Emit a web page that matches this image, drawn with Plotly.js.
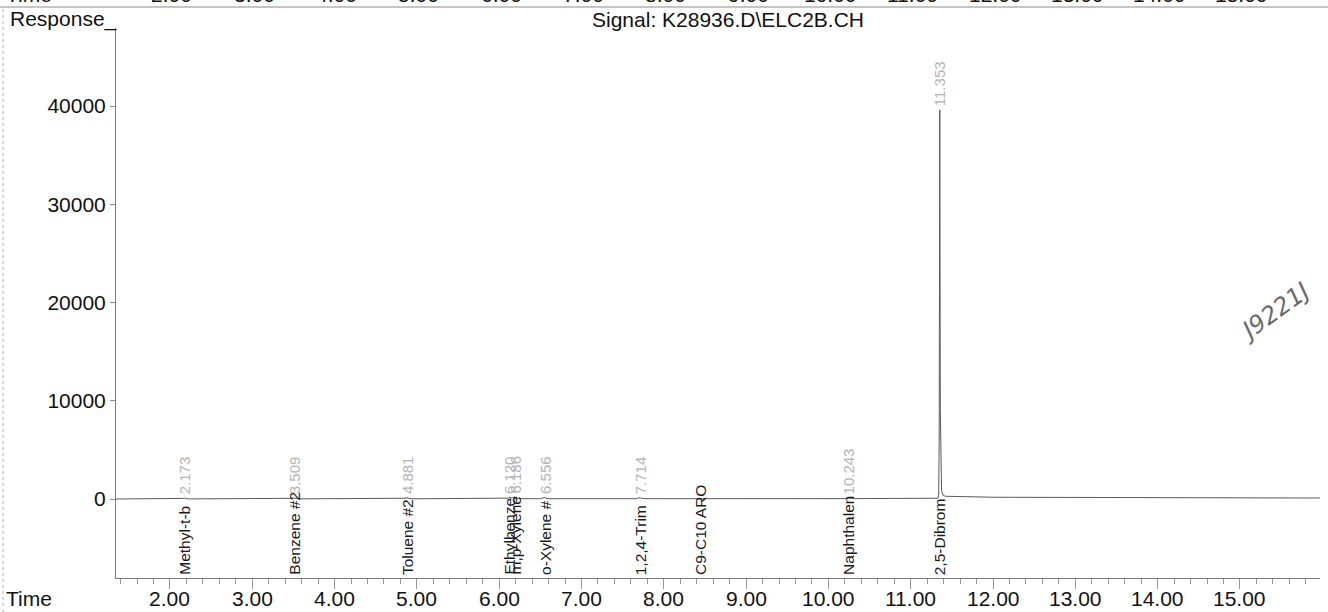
<!DOCTYPE html>
<html>
<head>
<meta charset="utf-8">
<script src="https://cdn.plot.ly/plotly-3.0.1.min.js"></script>
<style>
  html, body { margin: 0; padding: 0; background: #ffffff; }
  #chart { width: 1328px; height: 612px; }
</style>
</head>
<body>
<div id="chart"></div>
<script>
// Detector signal: retention time (min) and response
const traceTime = [1.344, 2.120, 2.166, 2.173, 2.180, 2.230, 3.450, 3.502, 3.509, 3.516, 3.570,
  4.820, 4.874, 4.881, 4.888, 4.940, 6.060, 6.113, 6.120, 6.150, 6.179, 6.186, 6.193, 6.240,
  6.500, 6.549, 6.556, 6.563, 6.610, 7.660, 7.707, 7.714, 7.721, 7.770, 10.190, 10.236, 10.243,
  10.250, 10.300, 11.300, 11.330, 11.340, 11.346, 11.350, 11.353, 11.356, 11.360, 11.366, 11.375,
  11.390, 11.420, 12.000, 13.500, 15.973];
const traceResponse = [0, 10, 60, 140, 60, 10, 10, 70, 160, 70, 15,
  15, 80, 180, 80, 20, 20, 90, 190, 110, 150, 260, 120, 30,
  30, 90, 170, 90, 30, 30, 80, 150, 80, 30, 40, 90, 160,
  90, 40, 40, 80, 400, 6000, 25000, 39600, 26000, 9000, 2500, 900,
  400, 280, 180, 130, 100];

// Identified compounds
const compoundNames = ["Methyl-t-b", "Benzene #2", "Toluene #2", "Ethylbenze", "m,p-Xylene",
  "o-Xylene #", "1,2,4-Trim", "C9-C10 ARO", "Naphthalen", "2,5-Dibrom"];
const compoundTimes = [2.173, 3.509, 4.881, 6.120, 6.186, 6.556, 7.714, 8.440, 10.243, 11.353];
// Retention-time text printed beside each compound (blank = none)
const timeLabels = ["2.173", "3.509", "4.881", "6.120", "6.186", "6.556", "7.714", "", "10.243", "11.353"];

// Axis ticks
const timeTicks = [2, 3, 4, 5, 6, 7, 8, 9, 10, 11, 12, 13, 14, 15];
const responseTicks = [0, 10000, 20000, 30000, 40000];

const signalName = "Signal: K28936.D\\ELC2B.CH";
const handNote = "J9221J";

// page geometry (pixels)
const W = 1328, H = 612;
const M = { l: 116, r: 8, t: 28, b: 34 };
const PW = W - M.l - M.r, PH = H - M.t - M.b;
const px = x => (x - M.l) / PW;          // page x -> paper x
const py = y => (H - M.b - y) / PH;      // page y -> paper y

const X_RANGE = [1.344, 15.973];
const Y_RANGE = [-8040, 47940];

const FONT = "Liberation Sans, Arial, sans-serif";
const grey = "#7a7a7a";
const textFont = { family: FONT, size: 21, color: "#111" };

const annotations = [];

// compound names along the bottom, and retention times above the baseline
const apexIdx = traceResponse.indexOf(Math.max(...traceResponse));
compoundNames.forEach((name, i) => {
  annotations.push({
    x: compoundTimes[i], y: Y_RANGE[0], xref: "x", yref: "y",
    text: name, textangle: -90, showarrow: false,
    xanchor: "center", yanchor: "bottom", yshift: 1,
    font: { family: FONT, size: 15.5, color: "#1a1a1a" }
  });
  const lbl = timeLabels[i];
  if (!lbl) return;
  const atApex = Math.abs(traceTime[apexIdx] - compoundTimes[i]) < 1e-6;
  annotations.push({
    x: compoundTimes[i], y: atApex ? traceResponse[apexIdx] : 0, xref: "x", yref: "y",
    text: lbl, textangle: -90, showarrow: false,
    xanchor: "center", yanchor: "bottom", yshift: atApex ? 2 : 3,
    font: { family: FONT, size: 15, color: "#b4b4b4" }
  });
});

// header texts
annotations.push({
  x: px(8), y: py(19), xref: "paper", yref: "paper", text: "Response_",
  showarrow: false, xanchor: "left", yanchor: "middle", font: textFont
});
annotations.push({
  x: px(728), y: py(19), xref: "paper", yref: "paper", text: signalName,
  showarrow: false, xanchor: "center", yanchor: "middle", font: textFont
});

// time scale labels under the axis
annotations.push({
  x: px(4), y: py(598), xref: "paper", yref: "paper", text: "Time",
  showarrow: false, xanchor: "left", yanchor: "middle", font: textFont
});
timeTicks.forEach(t => {
  annotations.push({
    x: t, y: py(598), xref: "x", yref: "paper", text: t.toFixed(2),
    showarrow: false, xanchor: "center", yanchor: "middle", font: textFont
  });
});

// previous panel's time scale, running off the top edge
annotations.push({
  x: px(4), y: py(-5), xref: "paper", yref: "paper", text: "Time",
  showarrow: false, xanchor: "left", yanchor: "middle", font: textFont
});
timeTicks.forEach(t => {
  annotations.push({
    x: t, y: py(-5), xref: "x", yref: "paper", text: t.toFixed(2),
    showarrow: false, xanchor: "center", yanchor: "middle", xshift: 2, font: textFont
  });
});

// handwritten note
annotations.push({
  x: px(1274), y: py(312), xref: "paper", yref: "paper", text: handNote,
  showarrow: false, xanchor: "center", yanchor: "middle", textangle: -36,
  font: { family: "DejaVu Sans, sans-serif", size: 24, color: "#6a6a6a", style: "italic" }
});

const shapes = [
  // rule under the previous panel's scale
  { type: "line", xref: "paper", yref: "paper", x0: px(0), x1: px(W), y0: py(7), y1: py(7),
    line: { color: "#8c8c8c", width: 1.2 } },
  // page edge on the left
  { type: "line", xref: "paper", yref: "paper", x0: px(3), x1: px(3), y0: py(H), y1: py(8),
    line: { color: "#b0b0b0", width: 1, dash: "dot" } }
];

const data = [{
  x: traceTime, y: traceResponse, type: "scatter", mode: "lines",
  line: { color: "#5a5a5a", width: 1 }, hoverinfo: "x+y"
}];

const layout = {
  width: W, height: H,
  margin: M,
  paper_bgcolor: "#ffffff", plot_bgcolor: "#ffffff",
  showlegend: false,
  font: { family: FONT, color: "#111" },
  xaxis: {
    range: X_RANGE, showgrid: false, zeroline: false,
    showline: true, linecolor: grey, linewidth: 1,
    tickmode: "array", tickvals: timeTicks, showticklabels: false,
    ticks: "outside", ticklen: 10, tickcolor: "#9a9a9a", tickwidth: 1,
    minor: { dtick: 0.2, tick0: 0, ticks: "outside", ticklen: 5, tickcolor: "#9a9a9a", tickwidth: 1 }
  },
  yaxis: {
    range: Y_RANGE, showgrid: false, zeroline: false,
    showline: true, linecolor: grey, linewidth: 1,
    tickmode: "array", tickvals: responseTicks, ticktext: responseTicks.map(v => String(v)),
    ticks: "outside", ticklen: 5, tickcolor: "#8a8a8a", tickwidth: 1,
    tickfont: textFont
  },
  annotations: annotations,
  shapes: shapes
};

Plotly.newPlot("chart", data, layout, { staticPlot: true, displayModeBar: false });
</script>
</body>
</html>
